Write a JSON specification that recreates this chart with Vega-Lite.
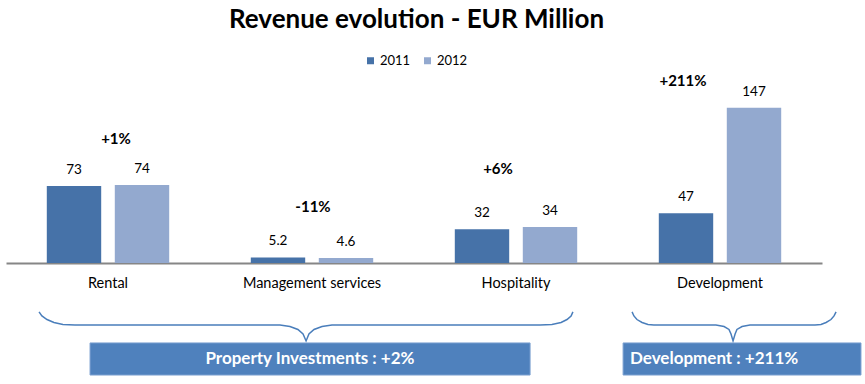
{
  "$schema": "https://vega.github.io/schema/vega-lite/v6.json",
  "width": 865,
  "height": 344,
  "autosize": {"type": "none"},
  "padding": {"top": 40, "left": 0, "right": 0, "bottom": 0},
  "background": "white",
  "title": {"text": "Revenue evolution - EUR Million", "font": "Lato", "fontSize": 26, "fontWeight": "bold", "color": "#000000", "anchor": "middle", "dx": -16, "offset": 7},
  "config": {"view": {"stroke": null}, "text": {"font": "Lato"}},
  "datasets": {
    "rev": [
      {"category": "Rental", "year": "2011", "value": 73},
      {"category": "Rental", "year": "2012", "value": 74},
      {"category": "Management services", "year": "2011", "value": 5.2},
      {"category": "Management services", "year": "2012", "value": 4.6},
      {"category": "Hospitality", "year": "2011", "value": 32},
      {"category": "Hospitality", "year": "2012", "value": 34},
      {"category": "Development", "year": "2011", "value": 47},
      {"category": "Development", "year": "2012", "value": 147}
    ],
    "chg": [
      {"category": "Rental", "change": "+1%", "ypos": 117.5},
      {"category": "Management services", "change": "-11%", "ypos": 53.1},
      {"category": "Hospitality", "change": "+6%", "ypos": 89.1},
      {"category": "Development", "change": "+211%", "ypos": 172.5}
    ],
    "brace": [
      {"brace": "L", "u": 0.162, "v": -46.4}, {"brace": "L", "u": 0.176, "v": -50.2}, {"brace": "L", "u": 0.201, "v": -53.6},
      {"brace": "L", "u": 0.235, "v": -56.4}, {"brace": "L", "u": 0.279, "v": -58.3}, {"brace": "L", "u": 0.338, "v": -58.8},
      {"brace": "L", "u": 1.343, "v": -58.8}, {"brace": "L", "u": 1.392, "v": -60.2}, {"brace": "L", "u": 1.431, "v": -63.0},
      {"brace": "L", "u": 1.456, "v": -67.3}, {"brace": "L", "u": 1.471, "v": -73.9}, {"brace": "L", "u": 1.485, "v": -67.3},
      {"brace": "L", "u": 1.510, "v": -63.0}, {"brace": "L", "u": 1.549, "v": -60.2}, {"brace": "L", "u": 1.598, "v": -58.8},
      {"brace": "L", "u": 2.618, "v": -58.8}, {"brace": "L", "u": 2.676, "v": -58.3}, {"brace": "L", "u": 2.721, "v": -56.4},
      {"brace": "L", "u": 2.750, "v": -53.6}, {"brace": "L", "u": 2.770, "v": -50.2}, {"brace": "L", "u": 2.779, "v": -46.4},
      {"brace": "R", "u": 3.069, "v": -46.4}, {"brace": "R", "u": 3.078, "v": -50.2}, {"brace": "R", "u": 3.093, "v": -53.6},
      {"brace": "R", "u": 3.118, "v": -56.4}, {"brace": "R", "u": 3.147, "v": -58.3}, {"brace": "R", "u": 3.176, "v": -58.8},
      {"brace": "R", "u": 3.480, "v": -58.8}, {"brace": "R", "u": 3.520, "v": -60.2}, {"brace": "R", "u": 3.544, "v": -63.0},
      {"brace": "R", "u": 3.554, "v": -67.3}, {"brace": "R", "u": 3.564, "v": -73.9}, {"brace": "R", "u": 3.574, "v": -67.3},
      {"brace": "R", "u": 3.583, "v": -63.0}, {"brace": "R", "u": 3.608, "v": -60.2}, {"brace": "R", "u": 3.647, "v": -58.8},
      {"brace": "R", "u": 3.966, "v": -58.8}, {"brace": "R", "u": 3.995, "v": -58.3}, {"brace": "R", "u": 4.020, "v": -56.4},
      {"brace": "R", "u": 4.044, "v": -53.6}, {"brace": "R", "u": 4.059, "v": -50.2}, {"brace": "R", "u": 4.069, "v": -46.4}
    ],
    "box": [
      {"label": "Property Investments : +2%", "x0": 0.412, "x1": 2.569, "xc": 1.49, "y0": -75.8, "y1": -106.2, "yc": -91.0},
      {"label": "Development : +211%", "x0": 3.025, "x1": 4.191, "xc": 3.471, "y0": -75.8, "y1": -106.2, "yc": -91.0}
    ]
  },
  "layer": [
    {
      "layer": [
        {
          "data": {"name": "rev"},
          "mark": {"type": "bar"},
          "encoding": {
            "x": {"field": "category", "type": "nominal", "sort": null,
              "scale": {"domain": ["Rental", "Management services", "Hospitality", "Development"], "range": [6, 822], "paddingInner": 0.4, "paddingOuter": 0.2},
              "axis": {"title": null, "orient": "bottom", "offset": -121, "ticks": false, "domainColor": "#868686", "domainWidth": 2, "labelAngle": 0, "labelPadding": 13, "labelFont": "Lato", "labelFontSize": 14.5, "labelColor": "#000000"}},
            "xOffset": {"field": "year", "type": "nominal", "scale": {"paddingInner": 0.2, "paddingOuter": 0}},
            "y": {"field": "value", "type": "quantitative", "scale": {"domain": [-114.7, 211.3], "nice": false, "zero": false}, "axis": null},
            "color": {"field": "year", "type": "nominal",
              "scale": {"domain": ["2011", "2012"], "range": ["#4672A8", "#93A9CF"]},
              "legend": {"orient": "none", "legendX": 364, "legendY": 14, "direction": "horizontal", "title": null, "symbolType": "square", "symbolSize": 49, "symbolStrokeWidth": 0, "labelFont": "Lato", "labelFontSize": 13, "labelColor": "#000000", "labelOffset": 3, "columnPadding": 10}}
          }
        },
        {
          "data": {"name": "rev"},
          "mark": {"type": "text", "baseline": "bottom", "dy": -9, "fontSize": 13.5, "color": "#000000"},
          "encoding": {
            "x": {"field": "category", "type": "nominal", "sort": null},
            "xOffset": {"field": "year", "type": "nominal"},
            "y": {"field": "value", "type": "quantitative"},
            "text": {"field": "value", "type": "nominal"}
          }
        },
        {
          "data": {"name": "chg"},
          "transform": [{"filter": "datum.category === 'Rental'"}],
          "mark": {"type": "text", "baseline": "middle", "dx": 8, "fontSize": 15, "fontWeight": "bold", "color": "#000000"},
          "encoding": {
            "x": {"field": "category", "type": "nominal", "sort": null},
            "y": {"field": "ypos", "type": "quantitative"},
            "text": {"field": "change", "type": "nominal"}
          }
        },
        {
          "data": {"name": "chg"},
          "transform": [{"filter": "datum.category === 'Management services'"}],
          "mark": {"type": "text", "baseline": "middle", "dx": 1, "fontSize": 15, "fontWeight": "bold", "color": "#000000"},
          "encoding": {
            "x": {"field": "category", "type": "nominal", "sort": null},
            "y": {"field": "ypos", "type": "quantitative"},
            "text": {"field": "change", "type": "nominal"}
          }
        },
        {
          "data": {"name": "chg"},
          "transform": [{"filter": "datum.category === 'Hospitality'"}],
          "mark": {"type": "text", "baseline": "middle", "dx": -18, "fontSize": 15, "fontWeight": "bold", "color": "#000000"},
          "encoding": {
            "x": {"field": "category", "type": "nominal", "sort": null},
            "y": {"field": "ypos", "type": "quantitative"},
            "text": {"field": "change", "type": "nominal"}
          }
        },
        {
          "data": {"name": "chg"},
          "transform": [{"filter": "datum.category === 'Development'"}],
          "mark": {"type": "text", "baseline": "middle", "dx": -37, "fontSize": 15, "fontWeight": "bold", "color": "#000000"},
          "encoding": {
            "x": {"field": "category", "type": "nominal", "sort": null},
            "y": {"field": "ypos", "type": "quantitative"},
            "text": {"field": "change", "type": "nominal"}
          }
        }
      ]
    },
    {
      "layer": [
        {
          "data": {"name": "brace"},
          "mark": {"type": "line", "color": "#4A7EBB", "strokeWidth": 1.5},
          "encoding": {
            "x": {"field": "u", "type": "quantitative", "scale": {"domain": [0, 4], "range": [6, 822], "nice": false, "zero": false}, "axis": null},
            "y": {"field": "v", "type": "quantitative", "scale": {"domain": [-114.7, 211.3], "nice": false, "zero": false}, "axis": null},
            "detail": {"field": "brace", "type": "nominal"}
          }
        },
        {
          "data": {"name": "box"},
          "mark": {"type": "rect", "color": "#4F81BD", "stroke": "#7A9FD0", "strokeWidth": 1},
          "encoding": {
            "x": {"field": "x0", "type": "quantitative"},
            "x2": {"field": "x1"},
            "y": {"field": "y0", "type": "quantitative"},
            "y2": {"field": "y1"}
          }
        },
        {
          "data": {"name": "box"},
          "mark": {"type": "text", "baseline": "middle", "align": "center", "fontSize": 17, "fontWeight": "bold", "color": "#FFFFFF"},
          "encoding": {
            "x": {"field": "xc", "type": "quantitative"},
            "y": {"field": "yc", "type": "quantitative"},
            "text": {"field": "label", "type": "nominal"}
          }
        }
      ]
    }
  ],
  "resolve": {"scale": {"x": "independent"}}
}
